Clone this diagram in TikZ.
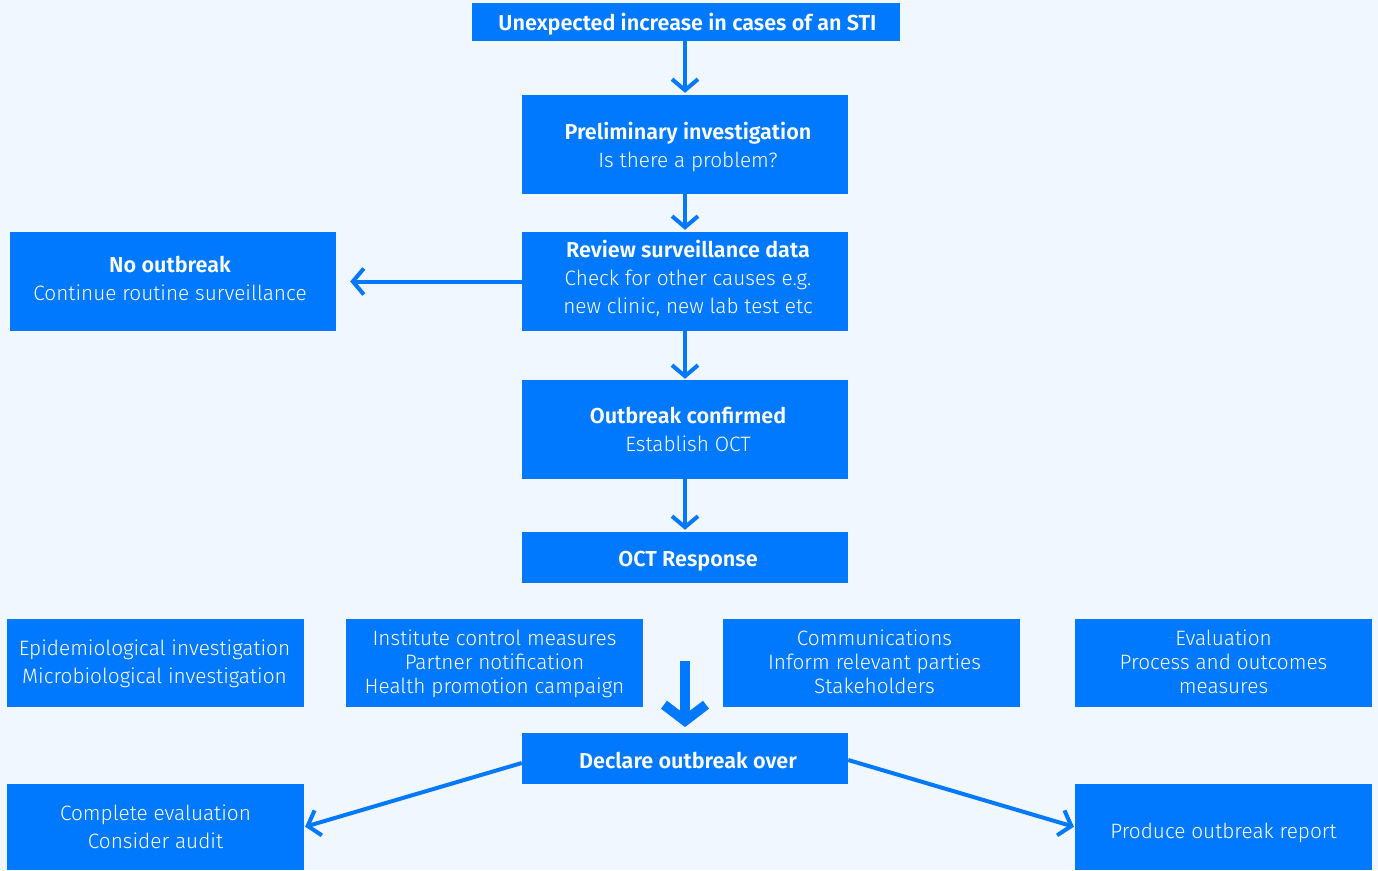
\documentclass[tikz,border=0pt]{standalone}
\usepackage{fontspec}
\setmainfont{Fira Sans}[UprightFont=* Light, BoldFont=* SemiBold]
\usetikzlibrary{arrows.meta}
\definecolor{bgc}{HTML}{F0F7FF}
\definecolor{bx}{HTML}{0079FF}
\newcommand{\hd}[1]{{\fontsize{21.6}{28}\selectfont\bfseries #1}}
\tikzset{
  box/.style={fill=bx, inner sep=0pt},
  txt/.style={text=white, inner sep=0pt, align=center, font=\fontsize{20.8}{28}\selectfont},
  txtlow/.style={txt, font=\fontsize{20.8}{24}\selectfont},
  arr/.style={draw=bx, line width=4pt, -{Straight Barb[length=11pt, width=26pt]}},
  bigarr/.style={draw=bx, line width=10pt, -{Straight Barb[length=16pt, width=42pt]}}
}
\begin{document}
\begin{tikzpicture}[x=1pt, y=-1pt]
\fill[bgc] (0,0) rectangle (1378,870);
\useasboundingbox (0,0) rectangle (1378,870);
% boxes
\node[box, minimum width=428pt, minimum height=38pt] (top) at (686,22) {};
\node[box, minimum width=326pt, minimum height=99pt] (prelim) at (685,144.5) {};
\node[box, minimum width=326pt, minimum height=99pt] (review) at (685,281.5) {};
\node[box, minimum width=326pt, minimum height=99pt] (noout) at (173,281.5) {};
\node[box, minimum width=326pt, minimum height=99pt] (conf) at (685,429.5) {};
\node[box, minimum width=326pt, minimum height=51pt] (oct) at (685,557.5) {};
\node[box, minimum width=297pt, minimum height=88pt] (epi) at (155.5,663) {};
\node[box, minimum width=297pt, minimum height=88pt] (inst) at (494.5,663) {};
\node[box, minimum width=297pt, minimum height=88pt] (comm) at (871.5,663) {};
\node[box, minimum width=297pt, minimum height=88pt] (eval) at (1223.5,663) {};
\node[box, minimum width=326pt, minimum height=51pt] (decl) at (685,758.5) {};
\node[box, minimum width=297pt, minimum height=86pt] (compl) at (155.5,827) {};
\node[box, minimum width=297pt, minimum height=86pt] (prod) at (1223.5,827) {};
% texts
\node[txt, xshift=1.5pt, yshift=-2pt] (topt) at (top) {\hd{Unexpected increase in cases of an STI}};
\node[txt, xshift=3pt, yshift=-2.5pt] (prelimt) at (prelim) {\hd{Preliminary investigation}\\Is there a problem?};
\node[txt, xshift=3pt, yshift=3pt] (reviewt) at (review) {\hd{Review surveillance data}\\Check for other causes e.g.\\new clinic, new lab test etc};
\node[txt, xshift=-3pt, yshift=3pt] (nooutt) at (noout) {\hd{No outbreak}\\Continue routine surveillance};
\node[txt, xshift=3pt] (conft) at (conf) {\hd{Outbreak confirmed}\\Establish OCT};
\node[txt, xshift=3pt, yshift=-4pt] (octt) at (oct) {\hd{OCT Response}};
\node[txt, xshift=-1pt, yshift=-0.5pt] (epit) at (epi) {Epidemiological investigation\\Microbiological investigation};
\node[txtlow, yshift=-1pt] (instt) at (inst) {Institute control measures\\Partner notification\\Health promotion campaign};
\node[txtlow, xshift=3pt, yshift=1pt] (commt) at (comm) {Communications\\Inform relevant parties\\Stakeholders};
\node[txtlow, yshift=1pt] (evalt) at (eval) {Evaluation\\Process and outcomes\\measures};
\node[txt, xshift=3pt, yshift=-2pt] (declt) at (decl) {\hd{Declare outbreak over}};
\node[txt, yshift=0pt] (complt) at (compl) {Complete evaluation\\Consider audit};
\node[txt, yshift=-6pt] (prodt) at (prod) {Produce outbreak report};
% connectors
\coordinate (bigs) at (685,661);
\coordinate (bige) at (685,727);
\draw[arr, shorten >=2pt] (top.south -| prelim.north) -- (prelim.north);
\draw[arr, shorten >=2pt] (prelim) -- (review);
\draw[arr, shorten >=14pt] (review.west) -- (noout.east);
\draw[arr, shorten >=1pt] (review) -- (conf);
\draw[arr, shorten >=2pt] (conf) -- (oct);
\draw[bigarr] (bigs) -- (bige);
\draw[arr, shorten >=1pt] ([yshift=-4.5pt]decl.west) -- (compl.east);
\draw[arr, shorten >=1pt] ([yshift=-1.5pt]decl.east) -- (prod.west);
\end{tikzpicture}
\end{document}
